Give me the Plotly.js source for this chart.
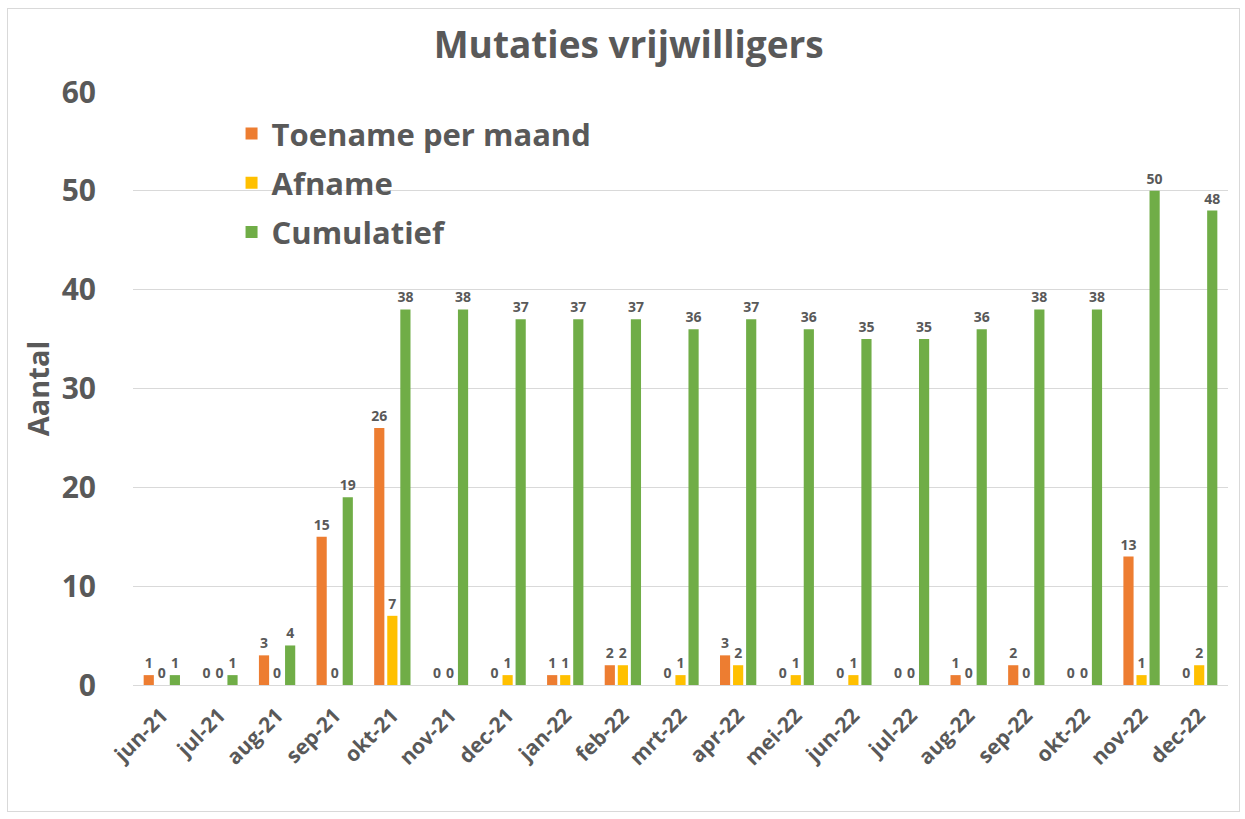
<!DOCTYPE html>
<html>
<head>
<meta charset="utf-8">
<script src="https://cdn.plot.ly/plotly-3.0.1.min.js"></script>
<style>
html,body{margin:0;padding:0;background:#fff;}
#frame{position:absolute;left:7px;top:8px;width:1231px;height:802px;border:1px solid #d9d9d9;}
#chart{position:absolute;left:0;top:0;width:1245px;height:819px;}
</style>
</head>
<body>
<div id="frame"></div>
<div id="chart"></div>
<script>
const months = ["jun-21","jul-21","aug-21","sep-21","okt-21","nov-21","dec-21","jan-22","feb-22","mrt-22","apr-22","mei-22","jun-22","jul-22","aug-22","sep-22","okt-22","nov-22","dec-22"];
const toename = [1,0,3,15,26,0,0,1,2,0,3,0,0,0,1,2,0,13,0];
const afname = [0,0,0,0,7,0,1,1,2,1,2,1,1,0,0,0,0,1,2];
const cumulatief = [1,1,4,19,38,38,37,37,37,36,37,36,35,35,36,38,38,50,48];

const FONT = "Open Sans, Noto Sans, sans-serif";
const TXT = "#595959";

function bar(name, vals, color, grp){
  return {
    type: "bar", name: name, x: months, y: vals,
    marker: {color: color},
    text: vals.map(String), textposition: "outside",
    textfont: {family: FONT, size: 14, color: TXT, weight: "bold"},
    constraintext: "none", cliponaxis: false,
    legendgroup: grp, hoverinfo: "x+y+name"
  };
}

const data = [
  bar("Toename per maand", toename, "#ED7D31", "a"),
  bar("Afname", afname, "#FFC000", "b"),
  bar("Cumulatief", cumulatief, "#70AD47", "c")
];

const layout = {
  width: 1245, height: 819,
  paper_bgcolor: "rgba(0,0,0,0)", plot_bgcolor: "rgba(0,0,0,0)",
  margin: {l: 133, r: 17, t: 92, b: 134},
  barmode: "group", bargap: 0.32, bargroupgap: 0.22,
  showlegend: true,
  title: {text: "Mutaties vrijwilligers", x: 0.505, xanchor: "center", y: 0.945, yanchor: "middle",
          font: {family: FONT, size: 37, color: TXT, weight: "bold"}},
  legend: {x: 0.09, y: 0.975, xanchor: "left", yanchor: "top", bgcolor: "rgba(0,0,0,0)",
           font: {family: FONT, size: 31, color: TXT, weight: "bold"},
           tracegroupgap: 6, itemwidth: 30},
  xaxis: {type: "category", tickangle: -45, showgrid: false, zeroline: false,
          showline: true, linecolor: "#d9d9d9", linewidth: 1,
          ticks: "outside", ticklen: 9, tickcolor: "rgba(0,0,0,0)",
          tickfont: {family: FONT, size: 21, color: TXT, weight: "bold"}},
  yaxis: {range: [0, 60], dtick: 10, showgrid: true, gridcolor: "#d9d9d9", gridwidth: 1,
          zeroline: true, zerolinecolor: "#d9d9d9", showline: false,
          ticks: "outside", ticklen: 30, tickcolor: "rgba(0,0,0,0)",
          tickfont: {family: FONT, size: 30, color: TXT, weight: "bold"},
          title: {text: "Aantal", standoff: 3, font: {family: FONT, size: 29, color: TXT, weight: "bold"}}}
};

Plotly.newPlot("chart", data, layout, {displayModeBar: false, staticPlot: true});
</script>
</body>
</html>
